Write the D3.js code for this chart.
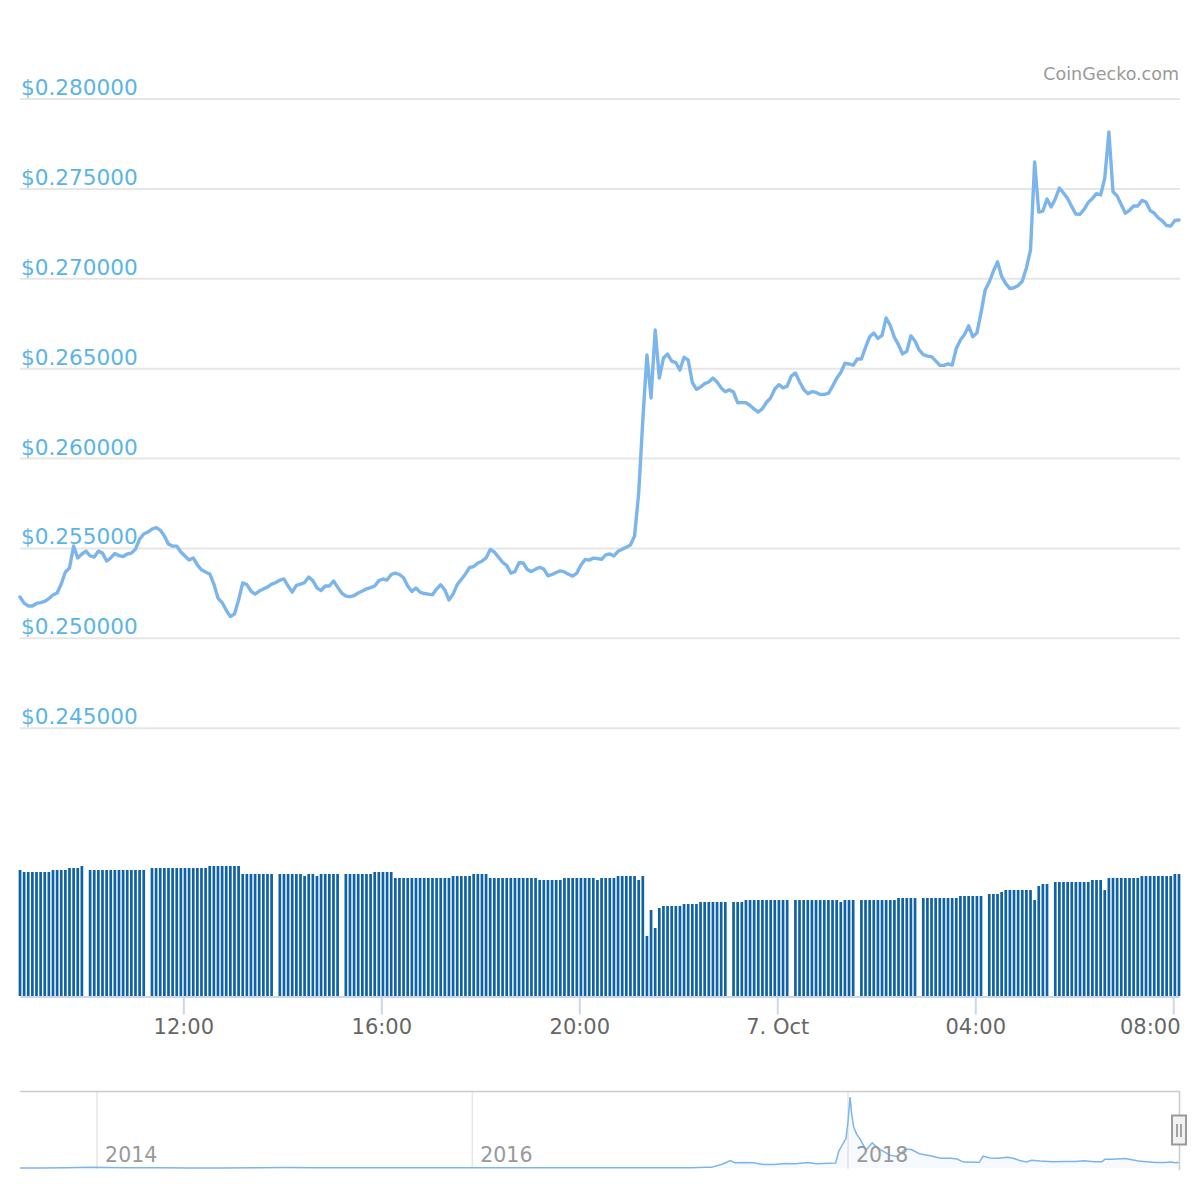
<!DOCTYPE html>
<html>
<head>
<meta charset="utf-8">
<script src="https://cdnjs.cloudflare.com/ajax/libs/d3/7.8.5/d3.min.js"></script>
<style>
  body { margin: 0; background: #fff; }
  text { font-family: 'DejaVu Sans', sans-serif; }
</style>
</head>
<body>
<svg id="chart"></svg>
<script>
// 5 minute price / volume points, 6 Oct 2019 08:42 UTC -> 7 Oct 08:07 UTC
var startTime = Date.UTC(2019, 9, 6, 8, 42);
var stepMinutes = 5;

var prices = [
  0.25230, 0.25196, 0.25180, 0.25180, 0.25194, 0.25199, 0.25205, 0.25221, 0.25241, 0.25252,
  0.25302, 0.25369, 0.25391, 0.25513, 0.25447, 0.25469, 0.25485, 0.25458, 0.25452, 0.25485,
  0.25474, 0.25430, 0.25447, 0.25472, 0.25460, 0.25455, 0.25469, 0.25474, 0.25496, 0.25552,
  0.25580, 0.25591, 0.25608, 0.25616, 0.25602, 0.25569, 0.25524, 0.25513, 0.25513, 0.25480,
  0.25458, 0.25435, 0.25447, 0.25408, 0.25381, 0.25369, 0.25358, 0.25302, 0.25224, 0.25199,
  0.25157, 0.25121, 0.25135, 0.25213, 0.25308, 0.25299, 0.25263, 0.25246, 0.25263, 0.25274,
  0.25285, 0.25302, 0.25310, 0.25323, 0.25330, 0.25291, 0.25257, 0.25294, 0.25302, 0.25310,
  0.25341, 0.25321, 0.25281, 0.25266, 0.25291, 0.25291, 0.25319, 0.25285, 0.25252, 0.25235,
  0.25232, 0.25238, 0.25252, 0.25263, 0.25275, 0.25282, 0.25291, 0.25321, 0.25330, 0.25324,
  0.25355, 0.25363, 0.25355, 0.25337, 0.25291, 0.25260, 0.25280, 0.25257, 0.25249, 0.25246,
  0.25242, 0.25274, 0.25298, 0.25269, 0.25213, 0.25246, 0.25299, 0.25327, 0.25358, 0.25394,
  0.25399, 0.25419, 0.25429, 0.25447, 0.25494, 0.25480, 0.25452, 0.25423, 0.25406, 0.25363,
  0.25371, 0.25420, 0.25419, 0.25383, 0.25371, 0.25385, 0.25395, 0.25385, 0.25348, 0.25355,
  0.25366, 0.25375, 0.25369, 0.25356, 0.25346, 0.25363, 0.25408, 0.25439, 0.25435, 0.25446,
  0.25444, 0.25439, 0.25464, 0.25469, 0.25458, 0.25484, 0.25496, 0.25507, 0.25519, 0.25569,
  0.25808, 0.26214, 0.26576, 0.26337, 0.26715, 0.26448, 0.26559, 0.26581, 0.26542, 0.26534,
  0.26492, 0.26563, 0.26548, 0.26423, 0.26385, 0.26398, 0.26417, 0.26426, 0.26448, 0.26426,
  0.26393, 0.26372, 0.26382, 0.26370, 0.26310, 0.26311, 0.26311, 0.26295, 0.26275, 0.26259,
  0.26278, 0.26313, 0.26338, 0.26387, 0.26411, 0.26393, 0.26403, 0.26459, 0.26476, 0.26427,
  0.26385, 0.26361, 0.26372, 0.26368, 0.26356, 0.26357, 0.26363, 0.26402, 0.26446, 0.26479,
  0.26530, 0.26526, 0.26519, 0.26554, 0.26554, 0.26618, 0.26677, 0.26698, 0.26668, 0.26685,
  0.26782, 0.26740, 0.26674, 0.26632, 0.26582, 0.26596, 0.26682, 0.26654, 0.26604, 0.26578,
  0.26570, 0.26567, 0.26543, 0.26519, 0.26518, 0.26527, 0.26520, 0.26612, 0.26659, 0.26690,
  0.26738, 0.26677, 0.26699, 0.26810, 0.26938, 0.26982, 0.27043, 0.27094, 0.27013, 0.26973,
  0.26945, 0.26950, 0.26962, 0.26986, 0.27060, 0.27160, 0.27650, 0.27371, 0.27377, 0.27444,
  0.27399, 0.27444, 0.27505, 0.27477, 0.27446, 0.27401, 0.27360, 0.27359, 0.27386, 0.27425,
  0.27447, 0.27474, 0.27466, 0.27560, 0.27817, 0.27484, 0.27461, 0.27412, 0.27365, 0.27381,
  0.27405, 0.27405, 0.27436, 0.27427, 0.27380, 0.27365, 0.27338, 0.27321, 0.27296, 0.27293,
  0.27324, 0.27327
];

// 24h volume, USD millions (null = no bar)
var volumes = [
  1260, 1240, 1240, 1240, 1240, 1240, 1240, 1240, 1260, 1260,
  1260, 1260, 1280, 1280, 1280, 1300, null, 1260, 1260, 1260,
  1260, 1260, 1260, 1260, 1260, 1260, 1260, 1260, 1260, 1260,
  1260, null, 1280, 1280, 1280, 1280, 1280, 1280, 1280, 1280,
  1280, 1280, 1280, 1280, 1280, 1280, 1300, 1300, 1300, 1300,
  1300, 1300, 1300, 1300, 1220, 1220, 1220, 1220, 1220, 1220,
  1220, 1220, null, 1220, 1220, 1220, 1220, 1220, 1220, 1200,
  1220, 1220, 1200, 1220, 1220, 1220, 1220, 1220, null, 1220,
  1220, 1220, 1220, 1220, 1220, 1220, 1240, 1240, 1240, 1240,
  1240, 1180, 1180, 1180, 1180, 1180, 1180, 1180, 1180, 1180,
  1180, 1180, 1180, 1180, 1180, 1200, 1200, 1200, 1200, 1200,
  1220, 1220, 1220, 1220, 1180, 1180, 1180, 1180, 1180, 1180,
  1180, 1180, 1180, 1180, 1180, 1180, 1160, 1160, 1160, 1160,
  1160, 1160, 1180, 1180, 1180, 1180, 1180, 1180, 1180, 1180,
  1160, 1180, 1180, 1180, 1180, 1200, 1200, 1200, 1200, 1200,
  1160, 1200, 600, 860, 680, 880, 900, 900, 900, 900,
  900, 920, 920, 920, 920, 940, 940, 940, 940, 940,
  940, 940, null, 940, 940, 940, 960, 960, 960, 960,
  960, 960, 960, 960, 960, 960, 960, null, 960, 960,
  960, 960, 960, 960, 960, 960, 960, 960, 960, 940,
  960, 960, 960, null, 960, 960, 960, 960, 960, 960,
  960, 960, 960, 980, 980, 980, 980, 980, null, 980,
  980, 980, 980, 980, 980, 980, 980, 980, 1000, 1000,
  1000, 1000, 1000, 1000, null, 1020, 1020, 1020, 1040, 1060,
  1060, 1060, 1060, 1060, 1060, 1060, 960, 1100, 1120, 1120,
  null, 1140, 1140, 1140, 1140, 1140, 1140, 1140, 1140, 1140,
  1160, 1160, 1160, 1060, 1180, 1180, 1180, 1180, 1180, 1180,
  1180, 1180, 1200, 1200, 1200, 1200, 1200, 1200, 1200, 1200,
  1220, 1220
];

var priceTicks = [0.245, 0.250, 0.255, 0.260, 0.265, 0.270, 0.275, 0.280];
var timeTicks = ["2019-10-06T12:00:00Z", "2019-10-06T16:00:00Z", "2019-10-06T20:00:00Z",
                 "2019-10-07T00:00:00Z", "2019-10-07T04:00:00Z", "2019-10-07T08:00:00Z"];
var timeTickLabels = ["12:00", "16:00", "20:00", "7. Oct", "04:00", "08:00"];

// navigator: full history
var navDates = [
  "2013-08-04", "2013-09-15", "2013-11-01", "2013-12-20", "2014-01-15", "2014-03-01", "2014-05-01",
  "2014-07-01", "2014-09-01", "2014-11-15", "2015-01-01", "2015-03-01", "2015-06-01", "2015-09-01",
  "2015-12-01", "2016-03-01", "2016-06-01", "2016-09-01", "2016-12-01", "2017-03-01", "2017-04-01",
  "2017-04-10", "2017-05-01", "2017-05-17", "2017-05-25", "2017-06-15", "2017-07-01", "2017-07-20",
  "2017-08-10", "2017-09-01", "2017-09-20", "2017-10-15", "2017-11-01", "2017-11-25", "2017-12-08",
  "2017-12-14", "2017-12-22", "2017-12-28", "2018-01-01", "2018-01-05", "2018-01-08", "2018-01-12",
  "2018-01-18", "2018-01-24", "2018-02-05", "2018-02-17", "2018-02-28", "2018-03-10", "2018-03-25",
  "2018-04-08", "2018-04-22", "2018-05-04", "2018-05-20", "2018-06-10", "2018-06-30", "2018-07-20",
  "2018-08-01", "2018-08-14", "2018-09-10", "2018-09-13", "2018-09-21", "2018-10-05", "2018-10-20",
  "2018-11-08", "2018-11-20", "2018-12-01", "2018-12-14", "2018-12-24", "2019-01-10", "2019-02-05",
  "2019-02-25", "2019-03-20", "2019-04-05", "2019-04-25", "2019-05-10", "2019-05-16", "2019-05-30",
  "2019-06-25", "2019-07-05", "2019-07-20", "2019-08-10", "2019-08-25", "2019-09-10", "2019-09-20",
  "2019-10-01", "2019-10-07"
];
var navPrices = [
  0.0055, 0.0055, 0.006, 0.03, 0.025, 0.015, 0.006,
  0.005, 0.005, 0.009, 0.023, 0.012, 0.008, 0.007,
  0.006, 0.007, 0.0065, 0.008, 0.0065, 0.008, 0.04,
  0.03, 0.18, 0.35, 0.25, 0.26, 0.25, 0.17,
  0.17, 0.22, 0.20, 0.26, 0.20, 0.23, 0.24,
  0.80, 1.15, 1.40, 2.20, 3.38, 2.60, 1.95,
  1.60, 1.40, 0.85, 1.20, 0.95, 0.80, 0.60,
  0.55, 0.90, 0.88, 0.68, 0.58, 0.47, 0.46,
  0.43, 0.28, 0.27, 0.26, 0.56, 0.47, 0.46,
  0.51, 0.45, 0.36, 0.29, 0.37, 0.33, 0.30,
  0.31, 0.31, 0.35, 0.30, 0.30, 0.42, 0.42,
  0.45, 0.40, 0.33, 0.29, 0.26, 0.26, 0.28,
  0.25, 0.273
];
var navYears = [2014, 2016, 2018];

var width = 1200, height = 1200;
var svg = d3.select("#chart").attr("width", width).attr("height", height);

var times = prices.map(function(d, i) {
  return new Date(startTime + i * stepMinutes * 60000);
});

var x = d3.scaleUtc().domain([times[0], times[times.length - 1]]).range([20, 1179]);
var y = d3.scaleLinear().domain([0.245, 0.280]).range([728.2, 99]);
var v = d3.scaleLinear().domain([0, 1400]).range([996, 856]);

// grid + price labels
svg.append("g").selectAll("line")
  .data(priceTicks)
  .enter().append("line")
  .attr("x1", 20).attr("x2", 1180)
  .attr("y1", function(d) { return y(d); })
  .attr("y2", function(d) { return y(d); })
  .attr("stroke", "#e6e6e6")
  .attr("stroke-width", 2);

svg.append("g").selectAll("text")
  .data(priceTicks)
  .enter().append("text")
  .attr("x", 21)
  .attr("y", function(d) { return y(d) - 4; })
  .attr("fill", "#5ab4e5")
  .attr("font-size", 21.6)
  .text(function(d) { return "$" + d.toFixed(6); });

svg.append("text")
  .attr("x", 1179).attr("y", 80)
  .attr("text-anchor", "end")
  .attr("fill", "#999")
  .attr("font-size", 17.5)
  .text("CoinGecko.com");

// volume columns
var barW = 2.7;
svg.append("g").selectAll("rect")
  .data(volumes.map(function(d, i) { return { t: times[i], vol: d }; })
    .filter(function(d) { return d.vol !== null; }))
  .enter().append("rect")
  .attr("x", function(d) { return x(d.t) - barW / 2; })
  .attr("y", function(d) { return v(d.vol); })
  .attr("width", barW)
  .attr("height", function(d) { return v(0) - v(d.vol); })
  .attr("fill", "#0f62a6");

// price line
var line = d3.line()
  .x(function(d, i) { return x(times[i]); })
  .y(function(d) { return y(d); });

svg.append("path")
  .datum(prices)
  .attr("d", line)
  .attr("fill", "none")
  .attr("stroke", "#7cb5ec")
  .attr("stroke-width", 3.4)
  .attr("stroke-linejoin", "round")
  .attr("stroke-linecap", "round");

// x axis
var xAxis = d3.axisBottom(x)
  .tickValues(timeTicks.map(function(d) { return new Date(d); }))
  .tickFormat(function(d, i) { return timeTickLabels[i]; })
  .tickSize(18)
  .tickSizeOuter(0)
  .tickPadding(5);

var gx = svg.append("g").attr("transform", "translate(0,996.5)").call(xAxis);
gx.select(".domain").attr("stroke", "#ccd6eb").attr("stroke-width", 2);
gx.selectAll(".tick line").attr("stroke", "#ccd6eb").attr("stroke-width", 2);
gx.selectAll(".tick text")
  .attr("fill", "#666")
  .attr("font-size", 21)
  .attr("font-family", "'DejaVu Sans', sans-serif");

// keep the last label inside the plot, like the original
gx.selectAll(".tick").filter(function(d, i, nodes) { return i === nodes.length - 1; })
  .select("text")
  .attr("text-anchor", "end")
  .attr("x", function(d) { return 1180 - x(d); });

// navigator
var navX = d3.scaleUtc()
  .domain([new Date(navDates[0]), new Date(navDates[navDates.length - 1])])
  .range([20, 1179]);
var navY = d3.scaleLinear().domain([0, 3.38]).range([1168, 1097]);

var nav = svg.append("g");

nav.selectAll("line.year")
  .data(navYears)
  .enter().append("line")
  .attr("class", "year")
  .attr("x1", function(d) { return navX(new Date(Date.UTC(d, 0, 1))); })
  .attr("x2", function(d) { return navX(new Date(Date.UTC(d, 0, 1))); })
  .attr("y1", 1091).attr("y2", 1169)
  .attr("stroke", "#e6e6e6")
  .attr("stroke-width", 1.5);

var navArea = d3.area()
  .x(function(d, i) { return navX(new Date(navDates[i])); })
  .y0(navY(0))
  .y1(function(d) { return navY(d); });

var navLine = d3.line()
  .x(function(d, i) { return navX(new Date(navDates[i])); })
  .y(function(d) { return navY(d); });

nav.append("path").datum(navPrices)
  .attr("d", navArea)
  .attr("fill", "rgba(124,181,236,0.07)");

nav.append("path").datum(navPrices)
  .attr("d", navLine)
  .attr("fill", "none")
  .attr("stroke", "#7cb5ec")
  .attr("stroke-width", 1.5);

nav.selectAll("text.year")
  .data(navYears)
  .enter().append("text")
  .attr("class", "year")
  .attr("x", function(d) { return navX(new Date(Date.UTC(d, 0, 1))) + 8; })
  .attr("y", 1162)
  .attr("fill", "#999")
  .attr("font-size", 20.5)
  .text(function(d) { return d; });

// outline + handle
nav.append("path")
  .attr("d", "M20,1091.5H1179.5V1170")
  .attr("fill", "none")
  .attr("stroke", "#cccccc")
  .attr("stroke-width", 1.5);

nav.append("rect")
  .attr("x", 1172).attr("y", 1115.5)
  .attr("width", 14).attr("height", 29)
  .attr("fill", "#f2f2f2")
  .attr("stroke", "#999")
  .attr("stroke-width", 2);

nav.selectAll("line.grip")
  .data([1177, 1181])
  .enter().append("line")
  .attr("class", "grip")
  .attr("x1", function(d) { return d; }).attr("x2", function(d) { return d; })
  .attr("y1", 1124).attr("y2", 1137)
  .attr("stroke", "#888")
  .attr("stroke-width", 1.5);
</script>
</body>
</html>
